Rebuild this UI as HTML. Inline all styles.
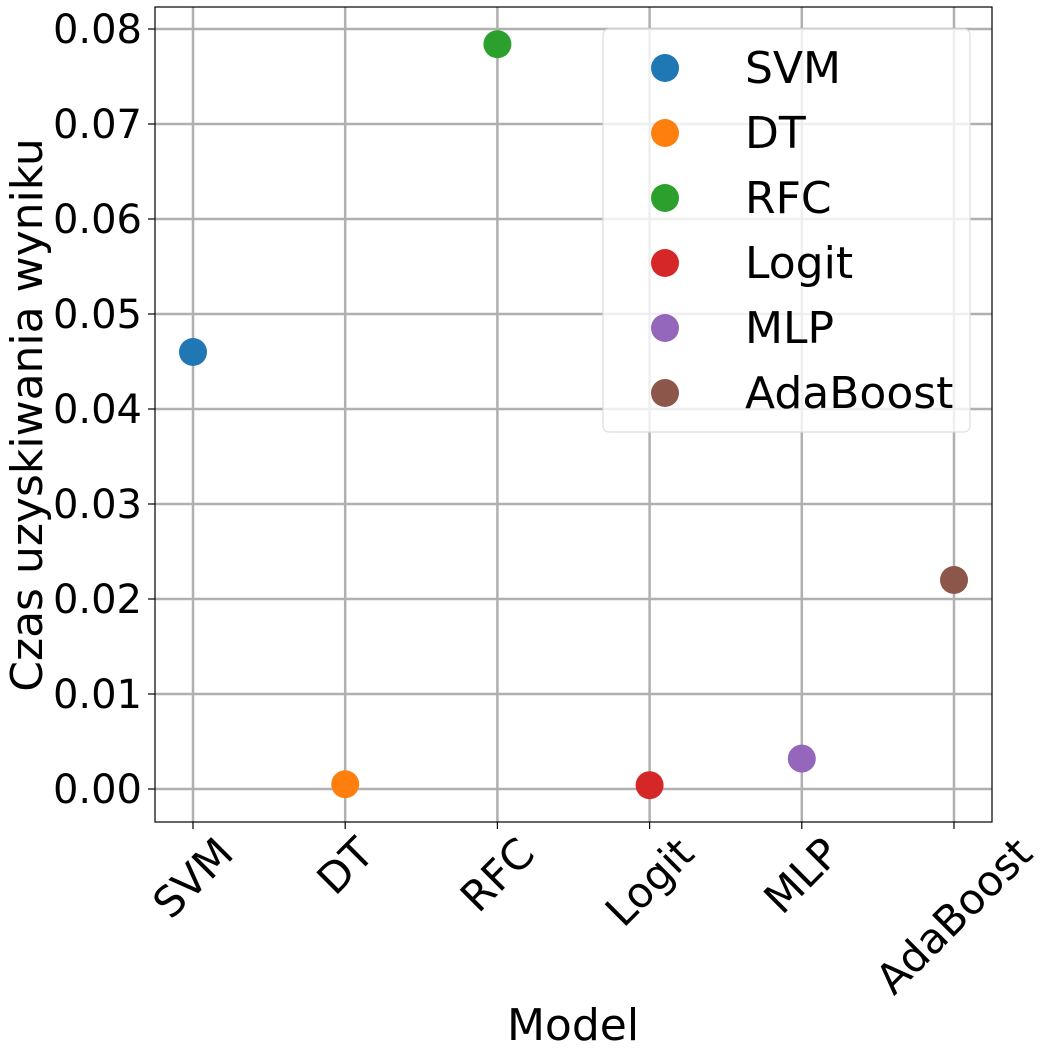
<!DOCTYPE html>
<html><head><meta charset="utf-8"><style>
body{margin:0;background:#fff}
svg{display:block;font-family:"DejaVu Sans","Liberation Sans",sans-serif}
</style></head><body>
<svg width="1046" height="1054" viewBox="0 0 1046 1054" xmlns="http://www.w3.org/2000/svg">
<g id="grid"></g>
<rect x="155" y="7" width="837" height="815" fill="none" stroke="#000" stroke-width="1.2"/>
<g id="yticks"></g>
<g id="xticks"></g>
<g id="points"></g>
<text transform="translate(42,415) rotate(-90)" text-anchor="middle" font-size="44">Czas uzyskiwania wyniku</text>
<text x="573" y="1040" text-anchor="middle" font-size="44">Model</text>
<g>
<rect x="603" y="29" width="367" height="403" rx="6" fill="#fff" fill-opacity="0.8" stroke="#ddd" stroke-width="1.2"/>
<g id="legend"></g>
</g>
<script>
const categories=["SVM","DT","RFC","Logit","MLP","AdaBoost"];
const values=[0.0460,0.0005,0.0784,0.0004,0.0032,0.0220];
const colors=["#1f77b4","#ff7f0e","#2ca02c","#d62728","#9467bd","#8c564b"];
const yTicks=[0,0.01,0.02,0.03,0.04,0.05,0.06,0.07,0.08];
const yTickLabels=["0.00","0.01","0.02","0.03","0.04","0.05","0.06","0.07","0.08"];
const NS="http://www.w3.org/2000/svg";
const y=v=>789-v*9500;
const x=i=>193+i*152.2;
function mk(tag,attrs,parent,text){const e=document.createElementNS(NS,tag);for(const k in attrs)e.setAttribute(k,attrs[k]);if(text!==undefined)e.textContent=text;parent.appendChild(e);return e;}
const grid=document.getElementById('grid'),yt=document.getElementById('yticks'),xt=document.getElementById('xticks'),pts=document.getElementById('points'),lg=document.getElementById('legend');
yTicks.forEach((v,i)=>{
 const g=mk('line',{x1:155,x2:992,y1:y(v),y2:y(v),stroke:'#b0b0b0','stroke-width':2.5},grid);
 
 const t=mk('line',{x1:148,x2:155,y1:y(v),y2:y(v),stroke:'#000','stroke-width':1.2},yt);
 
 const l=mk('text',{x:142,y:y(v)+14,'text-anchor':'end','font-size':40},yt,yTickLabels[i]);
 
});
categories.forEach((c,i)=>{
 const g=mk('line',{x1:x(i),x2:x(i),y1:7,y2:822,stroke:'#b0b0b0','stroke-width':2.5},grid);
 
 const t=mk('line',{x1:x(i),x2:x(i),y1:822,y2:829,stroke:'#000','stroke-width':1.2},xt);
 
 const l=mk('text',{'text-anchor':'middle','dominant-baseline':'central','font-size':42},xt,c);
 
 const w=l.getComputedTextLength();
 const hh=(w+30)*0.7071;
 l.setAttribute('transform',`translate(${x(i)},${835+hh/2}) rotate(-45)`);
 const p=mk('circle',{cx:x(i),cy:y(values[i]),r:14,fill:colors[i]},pts);
 
 const m=mk('circle',{cx:665,cy:68+i*65,r:14,fill:colors[i]},lg);
 
 const lt=mk('text',{x:745,y:83+i*65,'font-size':44},lg,c);
 
});
</script>
</svg>
</body></html>
